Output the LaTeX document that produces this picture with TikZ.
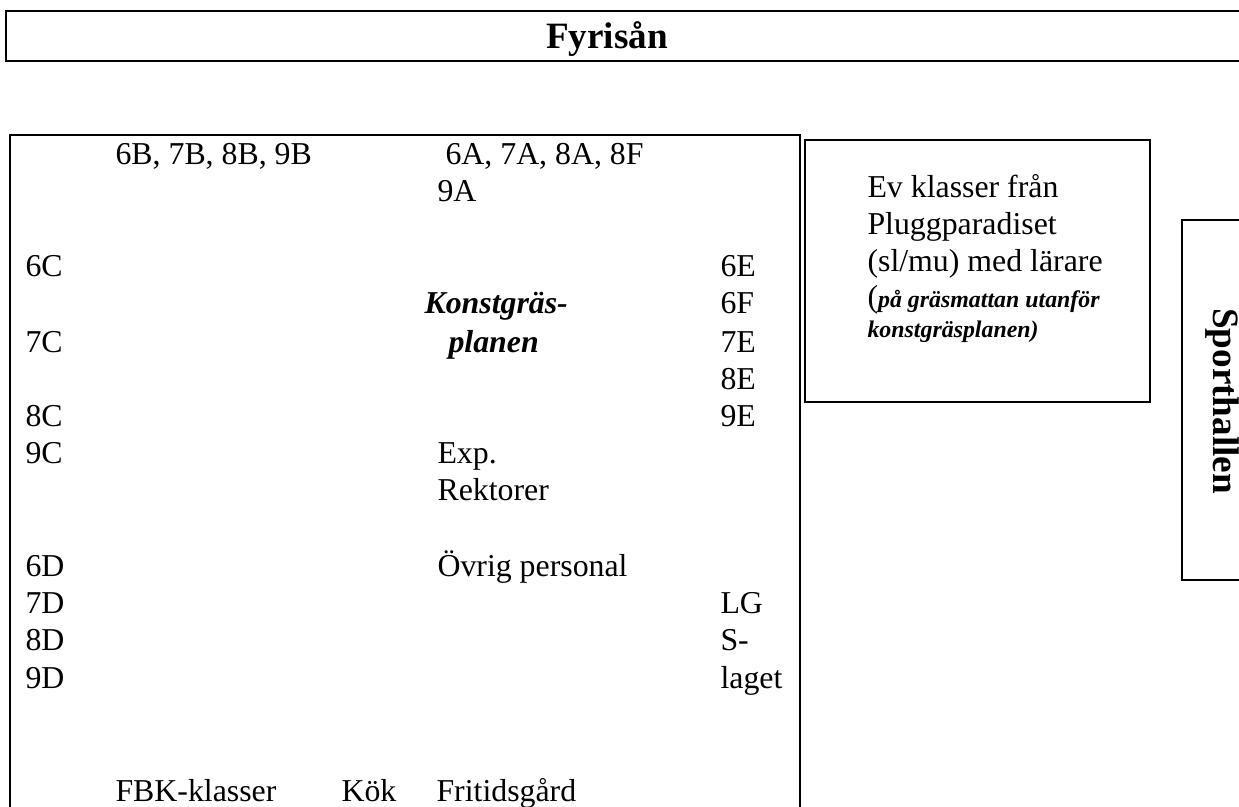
\documentclass[tikz,border=0pt]{standalone}
\usepackage{fontspec}
\setmainfont{Liberation Serif}
\usepackage{tikz}
\usetikzlibrary{positioning}

\tikzset{
  wall/.style={draw=black, line width=0.8pt},
  lbl/.style={anchor=base west, inner sep=0pt, font=\fontsize{12}{14}\selectfont},
  note/.style={anchor=base west, inner sep=0pt, font=\fontsize{9}{11}\selectfont\bfseries\itshape},
  bigname/.style={inner sep=0pt, font=\fontsize{14}{16}\selectfont\bfseries}
}

\begin{document}
\begin{tikzpicture}[x=0.377pt, y=-0.377pt]
  \useasboundingbox (0,0) rectangle (1239,807);

  % Fyrisån
  \draw[wall] (1250,11) -- (6,11) -- (6,61) -- (1250,61);
  \node[bigname, anchor=base] (river) at (607,49) {Fyrisån};

  % Skolgården
  \draw[wall] (10,815) -- (10,135) -- (800,135) -- (800,815);
  \node[lbl] (rowB) at (115,165) {6B, 7B, 8B, 9B};
  \node[lbl] (rowA) at (445,165) {6A, 7A, 8A, 8F};
  \node[lbl] (a9) at (437,202) {9A};

  \node[lbl] (c6) at (25,277) {6C};
  \node[lbl] (c7) at (25,352) {7C};
  \node[lbl] (c8) at (25,426) {8C};
  \node[lbl] (c9) at (25,464) {9C};

  \node[lbl] (d6) at (25,576) {6D};
  \node[lbl] (d7) at (25,613) {7D};
  \node[lbl] (d8) at (25,650) {8D};
  \node[lbl] (d9) at (25,688) {9D};

  \node[lbl] (e6) at (720,277) {6E};
  \node[lbl] (f6) at (720,314) {6F};
  \node[lbl] (e7) at (720,352) {7E};
  \node[lbl] (e8) at (720,389) {8E};
  \node[lbl] (e9) at (720,426) {9E};

  \node[lbl] (lg) at (720,613) {LG};
  \node[lbl] (slag) at (720,650) {S-};
  \node[lbl] (laget) at (720,688) {laget};

  % Konstgräsplanen
  \node[lbl, font=\fontsize{12}{14}\selectfont\bfseries\itshape] (plan1) at (424,314) {Konstgräs-};
  \node[lbl, font=\fontsize{12}{14}\selectfont\bfseries\itshape] (plan2) at (448,352) {planen};

  \node[lbl] (exp) at (437,464) {Exp.};
  \node[lbl] (rekt) at (437,501) {Rektorer};
  \node[lbl] (pers) at (437,576) {Övrig personal};

  \node[lbl] (fbk) at (115,801) {FBK-klasser};
  \node[lbl] (kok) at (341,801) {Kök};
  \node[lbl] (frit) at (436,801) {Fritidsgård};

  % Pluggparadiset
  \draw[wall, line width=1.1pt] (805,140) rectangle (1150,402);
  \node[lbl] (ev1) at (867,198) {Ev klasser från};
  \node[lbl] (ev2) at (867,235) {Pluggparadiset};
  \node[lbl] (ev3) at (867,272) {(sl/mu) med lärare};
  \node[lbl] (ev4) at (867,308) {(\textbf{\textit{\fontsize{9}{11}\selectfont på gräsmattan utanför}}};
  \node[note] (ev5) at (867,337) {konstgräsplanen)};

  % Sporthallen
  \draw[wall] (1250,220) -- (1182,220) -- (1182,580) -- (1250,580);
  \node[bigname, rotate=-90] (hall) at (1222,401) {Sporthallen};
\end{tikzpicture}
\end{document}
